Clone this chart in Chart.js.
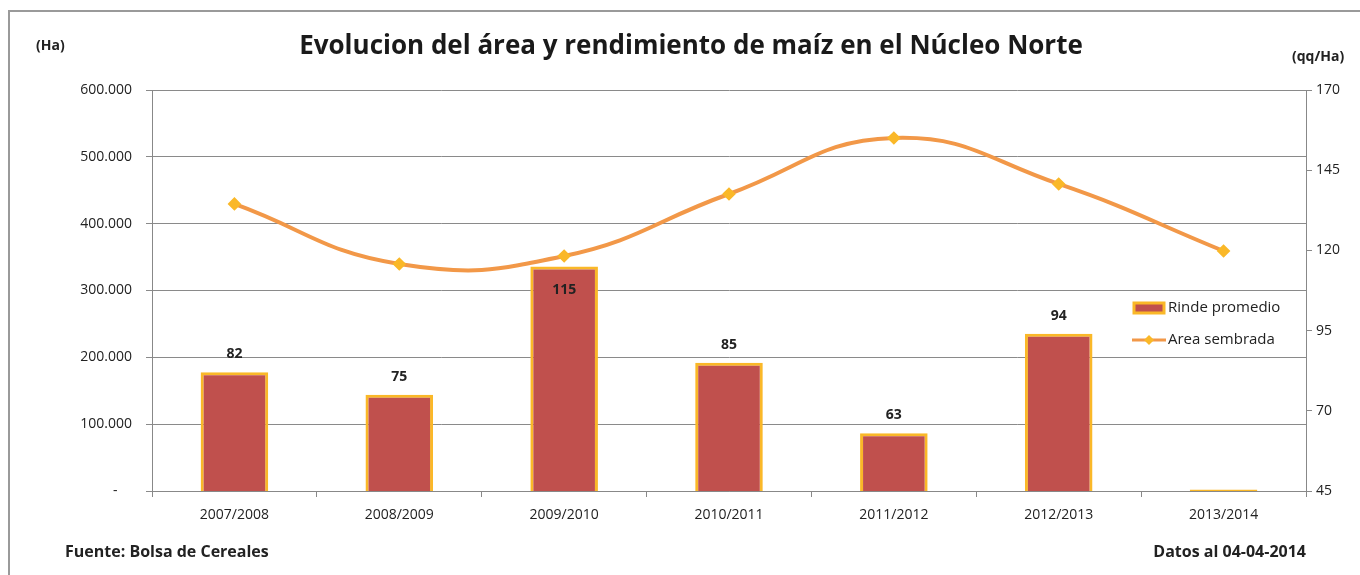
<!DOCTYPE html>
<html>
<head>
<meta charset="utf-8">
<script src="https://cdn.jsdelivr.net/npm/chart.js@4"></script>
<style>
    body { margin: 0; background: #fff; font-family: "Open Sans", sans-serif; }
    #wrap { position: relative; width: 1360px; height: 575px; overflow: hidden; }
    #frame { position: absolute; left: 8px; top: 10px; width: 1400px; height: 600px;
             border: 2px solid #9a9a9a; box-sizing: border-box; }
    canvas { position: absolute; left: 0; top: 0; }
    .txt { position: absolute; color: #222; white-space: nowrap; }
    #title { left: 0; width: 1382px; top: 26px; text-align: center;
             font: bold 26px "Open Sans", sans-serif; color: #1a1a1a; }
    #unitL { left: 36px; top: 35px; font: bold 14px "Open Sans", sans-serif; }
    #unitR { left: 1292px; top: 46px; font: bold 14px "Open Sans", sans-serif; }
    #fuente { left: 65px; top: 540px; font: bold 16px "Open Sans", sans-serif; }
    #datos { right: 54px; top: 540px; font: bold 16px "Open Sans", sans-serif; }
</style>
</head>
<body>
<div id="wrap">
    <div id="frame"></div>
    <canvas id="chart" width="1360" height="575"></canvas>
    <div class="txt" id="title">Evolucion del área y rendimiento de maíz en el Núcleo Norte</div>
    <div class="txt" id="unitL">(Ha)</div>
    <div class="txt" id="unitR">(qq/Ha)</div>
    <div class="txt" id="fuente">Fuente: Bolsa de Cereales</div>
    <div class="txt" id="datos">Datos al 04-04-2014</div>
</div>
<script>
const campanias = ["2007/2008", "2008/2009", "2009/2010", "2010/2011", "2011/2012", "2012/2013", "2013/2014"];
const rinde = [82, 75, 115, 85, 63, 94, 45.5];                                  // qq/Ha
const area  = [429500, 339700, 351600, 444400, 528200, 459400, 359100];         // Ha
const ticksIzq = [0, 100000, 200000, 300000, 400000, 500000, 600000];
const ticksDer = [45, 70, 95, 120, 145, 170];

const rojo     = "rgb(192, 80, 77)";
const amarillo = "rgb(250, 184, 40)";
const naranja  = "rgb(242, 152, 72)";
const fuente   = "'Open Sans', sans-serif";

function fmtMiles(v) {
    if (v === 0) return "-    ";
    return v.toString().replace(/\B(?=(\d{3})+(?!\d))/g, ".");
}

// etiquetas de valor sobre las barras + leyenda dentro del grafico
const extras = {
    id: "extras",
    afterDatasetsDraw(chart) {
        const ctx = chart.ctx;
        const meta = chart.getDatasetMeta(1);
        const yr = chart.scales.yDer;
        ctx.save();
        ctx.font = "bold 14px " + fuente;
        ctx.fillStyle = "#222";
        ctx.textAlign = "center";
        ctx.textBaseline = "middle";
        meta.data.forEach((bar, i) => {
            const v = rinde[i];
            if (v < yr.min + 1) return;
            const y = v > 110 ? bar.y + 24 : bar.y - 18;
            ctx.fillText(Math.round(v), bar.x, y);
        });

        // leyenda
        const lx = 1134, ly1 = 308, ly2 = 340;
        ctx.fillStyle = rojo;
        ctx.strokeStyle = amarillo;
        ctx.lineWidth = 3;
        ctx.fillRect(lx, ly1 - 5, 30, 10);
        ctx.strokeRect(lx, ly1 - 5, 30, 10);
        ctx.strokeStyle = naranja;
        ctx.beginPath();
        ctx.moveTo(lx - 2, ly2);
        ctx.lineTo(lx + 32, ly2);
        ctx.stroke();
        ctx.fillStyle = amarillo;
        ctx.beginPath();
        ctx.moveTo(lx + 15, ly2 - 5);
        ctx.lineTo(lx + 20, ly2);
        ctx.lineTo(lx + 15, ly2 + 5);
        ctx.lineTo(lx + 10, ly2);
        ctx.closePath();
        ctx.fill();
        ctx.font = "15px " + fuente;
        ctx.fillStyle = "#222";
        ctx.textAlign = "left";
        ctx.fillText("Rinde promedio", lx + 34, ly1);
        ctx.fillText("Area sembrada", lx + 34, ly2);
        ctx.restore();
    }
};

new Chart(document.getElementById("chart"), {
    data: {
        labels: campanias,
        datasets: [
            {
                type: "line", label: "Area sembrada", data: area, yAxisID: "yIzq",
                borderColor: naranja, borderWidth: 4, tension: 0.45,
                pointStyle: "rectRot", pointRadius: 4,
                pointBackgroundColor: amarillo, pointBorderColor: amarillo,
                order: 0,
            },
            {
                type: "bar", label: "Rinde promedio", data: rinde, yAxisID: "yDer",
                backgroundColor: rojo, borderColor: amarillo, borderWidth: 3,
                borderSkipped: false,
                categoryPercentage: 1, barPercentage: 0.41,
                order: 1,
            },
        ],
    },
    options: {
        responsive: false,
        animation: false,
        layout: { padding: { top: 90, left: 0, right: 0, bottom: 0 } },
        plugins: { legend: { display: false }, tooltip: { enabled: false } },
        scales: {
            x: {
                afterFit: s => { s.height = 84; },
                grid: { offset: true, drawOnChartArea: false, tickLength: 6, color: "#888" },
                border: { color: "#888" },
                ticks: { color: "#222", font: { size: 14, family: fuente }, padding: 10 },
            },
            yIzq: {
                position: "left", min: 0, max: 600000,
                afterFit: s => { s.width = 152; },
                afterBuildTicks: s => { s.ticks = ticksIzq.map(v => ({ value: v })); },
                grid: { color: "#8a8a8a", tickLength: 6 },
                border: { color: "#888" },
                ticks: { color: "#222", font: { size: 14, family: fuente },
                         padding: 14, callback: v => fmtMiles(v) },
            },
            yDer: {
                position: "right", min: 45, max: 170,
                afterFit: s => { s.width = 54; },
                afterBuildTicks: s => { s.ticks = ticksDer.map(v => ({ value: v })); },
                grid: { drawOnChartArea: false, tickLength: 6, color: "#888" },
                border: { color: "#888" },
                ticks: { color: "#222", font: { size: 14, family: fuente }, padding: 4 },
            },
        },
    },
    plugins: [extras],
});
</script>
</body>
</html>
